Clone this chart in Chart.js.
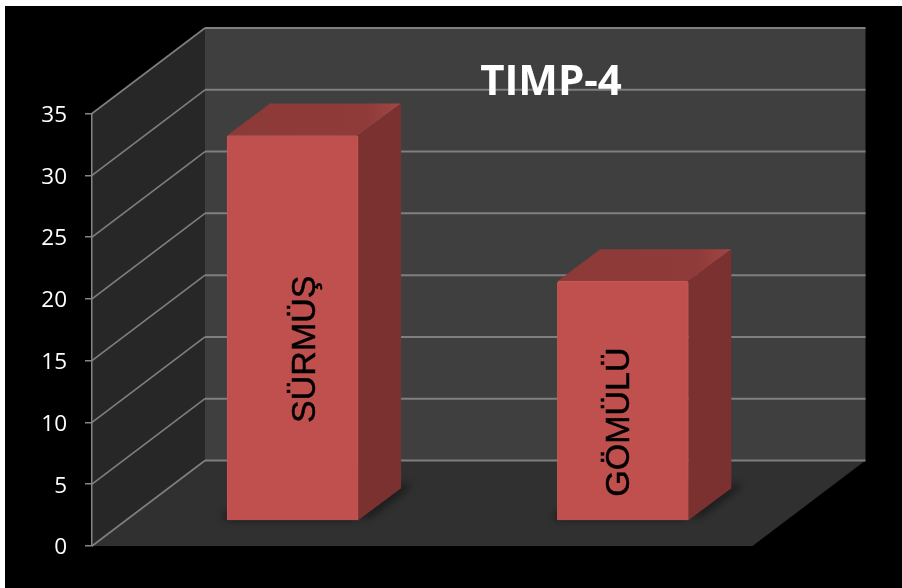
<!DOCTYPE html>
<html>
<head>
<meta charset="utf-8">
<script src="https://cdn.jsdelivr.net/npm/chart.js@4"></script>
<style>
  html, body { margin: 0; padding: 0; background: #fff; }
  #wrap { position: relative; width: 902px; height: 588px; }
</style>
</head>
<body>
<div id="wrap"><canvas id="chart"></canvas></div>
<script>
const categories = ["SÜRMÜŞ", "GÖMÜLÜ"];
const values = [31.2, 19.4];
const chartTitle = "TIMP-4";

// 3D box layout, all in pixels
const WALL_DX = 113;
const WALL_DY = 85.5;
const BAR_SHIFT_X = 35.5;
const BAR_SHIFT_Y = 25;
const BAR_DX = 43;
const BAR_DY = 32;
const LABEL_NUDGE = [22.5, 6.5];

function poly(ctx, pts, fill) {
  ctx.beginPath();
  pts.forEach((p, i) => (i ? ctx.lineTo(p[0], p[1]) : ctx.moveTo(p[0], p[1])));
  ctx.closePath();
  ctx.fillStyle = fill;
  ctx.fill();
}

const box3d = {
  id: "box3d",
  beforeDraw(chart) {
    const { ctx, chartArea: a, scales } = chart;
    const y = scales.y;
    ctx.save();
    // panel
    ctx.fillStyle = "#000";
    ctx.fillRect(5, 6, 897, 582);

    const y0 = y.getPixelForValue(0);
    const yMax = y.getPixelForValue(35);
    // back wall, side wall, floor
    poly(ctx, [[a.left + WALL_DX, yMax - WALL_DY], [a.right + WALL_DX, yMax - WALL_DY],
      [a.right + WALL_DX, y0 - WALL_DY], [a.left + WALL_DX, y0 - WALL_DY]], "#3f3f3f");
    poly(ctx, [[a.left, yMax], [a.left + WALL_DX, yMax - WALL_DY],
      [a.left + WALL_DX, y0 - WALL_DY], [a.left, y0]], "#272727");
    poly(ctx, [[a.left, y0], [a.right, y0], [a.right + WALL_DX, y0 - WALL_DY],
      [a.left + WALL_DX, y0 - WALL_DY]], "#303030");

    // grid lines run along the side wall and across the back
    ctx.strokeStyle = "#7f7f7f";
    y.ticks.forEach((t) => {
      const py = y.getPixelForValue(t.value);
      ctx.lineWidth = 1.6;
      ctx.beginPath();
      ctx.moveTo(a.left, py);
      ctx.lineTo(a.left + WALL_DX, py - WALL_DY);
      ctx.stroke();
      ctx.lineWidth = 2;
      ctx.beginPath();
      ctx.moveTo(a.left + WALL_DX, py - WALL_DY);
      ctx.lineTo(a.right + WALL_DX, py - WALL_DY);
      ctx.stroke();
    });
    ctx.restore();
  },
  beforeDatasetsDraw(chart) {
    const { ctx } = chart;
    const bars = chart.getDatasetMeta(0).data;
    ctx.save();
    ctx.translate(BAR_SHIFT_X, -BAR_SHIFT_Y);
    bars.forEach((bar) => {
      const x0 = bar.x - bar.width / 2;
      const x1 = bar.x + bar.width / 2;
      const top = bar.y;
      const bot = bar.base;

      // soft contact shadow on the floor
      ctx.save();
      ctx.shadowColor = "rgba(0,0,0,0.8)";
      ctx.shadowBlur = 8;
      ctx.shadowOffsetX = -5;
      poly(ctx, [[x0, bot - 2], [x1, bot - 2], [x1 + BAR_DX, bot - BAR_DY - 2], [x0 + BAR_DX, bot - BAR_DY - 2]], "#1c1c1c");
      ctx.shadowOffsetX = 7;
      poly(ctx, [[x1, bot - 1], [x1 + BAR_DX, bot - BAR_DY - 1], [x1 + BAR_DX, bot - BAR_DY - 6], [x1, bot - 6]], "#1c1c1c");
      ctx.restore();

      // top face, lighter toward the right corner
      const g = ctx.createLinearGradient(x0, 0, x1 + BAR_DX, 0);
      g.addColorStop(0, "#8c3a38");
      g.addColorStop(0.8, "#8f3b39");
      g.addColorStop(1, "#a24644");
      poly(ctx, [[x0, top], [x1, top], [x1 + BAR_DX, top - BAR_DY], [x0 + BAR_DX, top - BAR_DY]], g);
      // right face
      poly(ctx, [[x1, top], [x1 + BAR_DX, top - BAR_DY], [x1 + BAR_DX, bot - BAR_DY], [x1, bot]], "#7b312f");
    });
    ctx.restore();
  },
  beforeDatasetDraw(chart) {
    chart.ctx.save();
    chart.ctx.translate(BAR_SHIFT_X, -BAR_SHIFT_Y);
  },
  afterDatasetDraw(chart) {
    chart.ctx.restore();
  },
  afterDraw(chart) {
    const { ctx, scales } = chart;
    ctx.save();
    ctx.fillStyle = "#fff";
    ctx.font = "bold 42px 'Open Sans', sans-serif";
    ctx.textAlign = "center";
    ctx.textBaseline = "alphabetic";
    ctx.fillText(chartTitle, 551, 95);

    // category names sit rotated on the bar faces
    ctx.fillStyle = "#000";
    ctx.strokeStyle = "#000";
    ctx.lineWidth = 0.5;
    ctx.font = "34px 'Liberation Sans', sans-serif";
    chart.getDatasetMeta(0).data.forEach((bar, i) => {
      ctx.save();
      ctx.translate(bar.x + BAR_SHIFT_X + LABEL_NUDGE[i], scales.y.getPixelForValue(values[i] / 2) - 4);
      ctx.rotate(-Math.PI / 2);
      ctx.fillText(categories[i], 0, 0);
      ctx.strokeText(categories[i], 0, 0);
      ctx.restore();
    });
    ctx.restore();
  },
};

new Chart(document.getElementById("chart"), {
  type: "bar",
  data: {
    labels: categories,
    datasets: [
      {
        data: values,
        backgroundColor: "#c0504d",
        borderColor: "#c55a57",
        borderWidth: 1,
        borderRadius: 2,
        barThickness: 131,
        clip: false,
      },
    ],
  },
  options: {
    responsive: true,
    maintainAspectRatio: false,
    animation: false,
    layout: { padding: { left: 0, top: 113.5, right: 149.5, bottom: 42 } },
    plugins: { legend: { display: false }, title: { display: false }, tooltip: { enabled: false } },
    scales: {
      x: { display: false },
      y: {
        min: 0,
        max: 35,
        afterFit(scale) {
          scale.width = 92;
        },
        ticks: {
          stepSize: 5,
          padding: 18,
          labelOffset: 2,
          color: "#fff",
          font: { family: "'Open Sans', sans-serif", size: 22.5 },
        },
        grid: { drawOnChartArea: false, tickLength: 7, color: "#868686", lineWidth: 1.5 },
        border: { color: "#868686", width: 1.5 },
      },
    },
  },
  plugins: [box3d],
});
</script>
</body>
</html>
